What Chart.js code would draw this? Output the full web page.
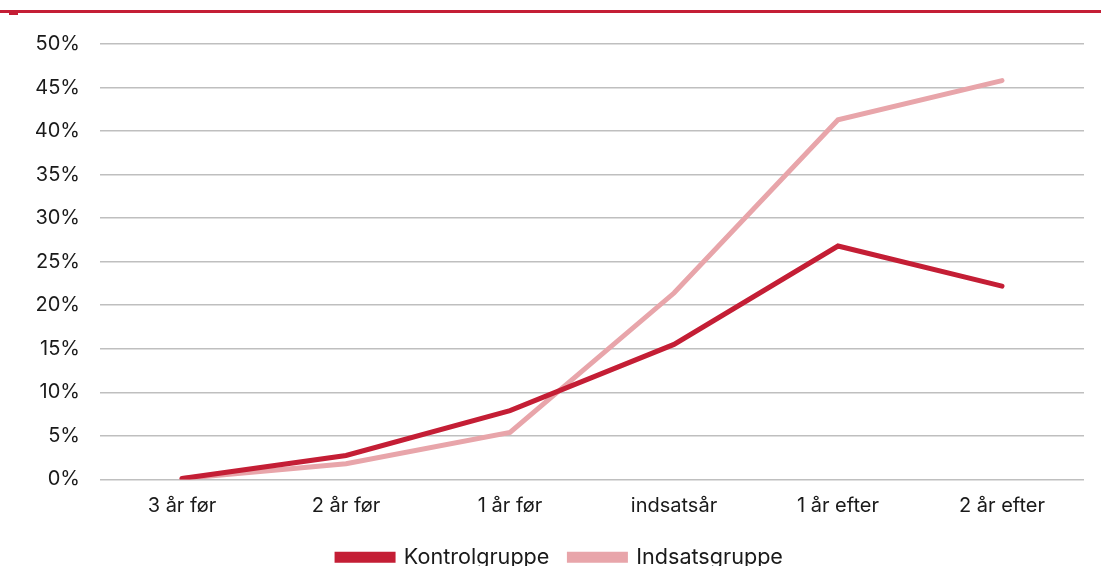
<!DOCTYPE html>
<html>
<head>
<meta charset="utf-8">
<script src="https://cdn.jsdelivr.net/npm/chart.js@4"></script>
<style>
  html, body { margin: 0; padding: 0; background: #fff; }
  #wrap { position: relative; width: 1101px; height: 566px; overflow: hidden; }
  #topline { position: absolute; left: 0; top: 10px; width: 1101px; height: 3px; background: #c41e35; }
  #topmark { position: absolute; left: 9px; top: 13px; width: 9px; height: 2px; background: #c41e35; }
  canvas { position: absolute; left: 0; top: 0; }
</style>
</head>
<body>
<div id="wrap">
  <div id="topline"></div>
  <div id="topmark"></div>
  <canvas id="chart" width="1101" height="578"></canvas>
</div>
<script>
const categories = ["3 år før", "2 år før", "1 år før", "indsatsår", "1 år efter", "2 år efter"];
const kontrolgruppe = [0.1, 2.75, 7.9, 15.5, 26.8, 22.2];
const indsatsgruppe = [0.1, 1.8, 5.4, 21.4, 41.3, 45.8];

const RED = "#c41e35";
const PINK = "#e8a5aa";

new Chart(document.getElementById("chart"), {
  type: "line",
  data: {
    labels: categories,
    datasets: [
      {
        label: "Kontrolgruppe",
        data: kontrolgruppe,
        borderColor: RED,
        backgroundColor: RED,
        borderWidth: 5,
        pointRadius: 0,
        borderCapStyle: "round",
        tension: 0,
        order: 1,
      },
      {
        label: "Indsatsgruppe",
        data: indsatsgruppe,
        borderColor: PINK,
        backgroundColor: PINK,
        borderWidth: 5,
        pointRadius: 0,
        borderCapStyle: "round",
        tension: 0,
        order: 2,
      },
    ],
  },
  options: {
    responsive: false,
    animation: false,
    layout: { padding: { top: 44, right: 17, left: 36, bottom: 0 } },
    plugins: {
      title: { display: false },
      tooltip: { enabled: false },
      legend: {
        position: "bottom",
        labels: {
          color: "#1a1a1a",
          font: { family: "Inter", size: 21.6 },
          boxWidth: 56,
          boxHeight: 6,
          padding: 20,
        },
      },
    },
    scales: {
      x: {
        offset: true,
        grid: { display: false },
        border: { display: false },
        afterFit: (s) => { s.height = 47; },
        ticks: { color: "#1a1a1a", font: { family: "Inter", size: 20 }, padding: 7 },
      },
      y: {
        min: 0,
        max: 50,
        grid: { color: "#bfbfbf", lineWidth: 1.5, drawTicks: false },
        border: { display: false },
        afterFit: (s) => { s.width = 64; },
        ticks: {
          stepSize: 5,
          color: "#1a1a1a",
          font: { family: "Inter", size: 20 },
          padding: 20,
          callback: (v) => v + "%",
        },
      },
    },
  },
});
</script>
</body>
</html>
